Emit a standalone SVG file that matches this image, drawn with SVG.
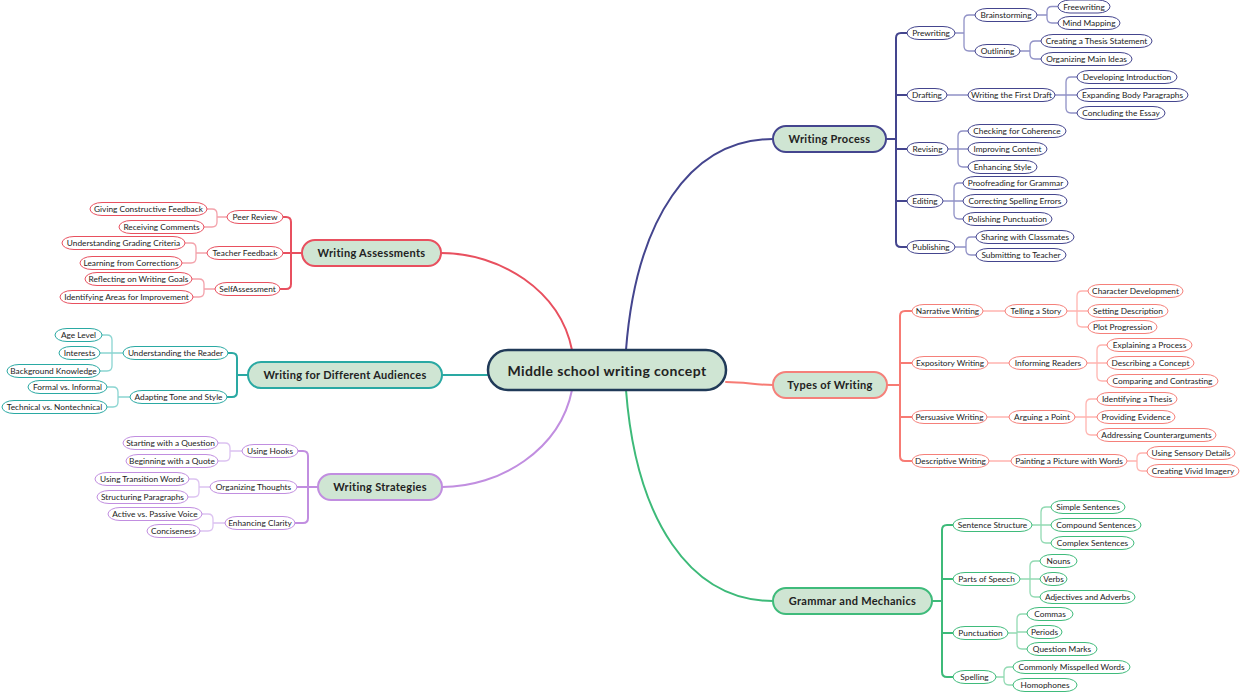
<svg xmlns="http://www.w3.org/2000/svg" width="1240" height="692" viewBox="0 0 1240 692">
<style>
text{font-family:Lato,"Open Sans","DejaVu Sans",sans-serif;text-anchor:middle;fill:#222}
.lf rect{fill:#fff;stroke-width:1;rx:12;ry:6.5}
.lf text{font-size:8.3px}
.mn rect{fill:#cfe5d3;stroke-width:2;rx:13;ry:13}
.mn text{font-size:11px;font-weight:bold;letter-spacing:0.3px}
.c{fill:none;stroke-linecap:round}
.t{stroke-width:2}
.s{stroke-width:1.3}
.wp rect{stroke:#44458e}.wp1{stroke:#44458e}.wp2{stroke:#9091c6}
.tw rect{stroke:#f5807a}.tw1{stroke:#f77b74}.tw2{stroke:#ffb4b0}
.gm rect{stroke:#3fbb7b}.gm1{stroke:#3dba79}.gm2{stroke:#92dab3}
.wa rect{stroke:#e8505f}.wa1{stroke:#e8505f}.wa2{stroke:#f3a2ab}
.au rect{stroke:#2aa9a3}.au1{stroke:#2aa9a3}.au2{stroke:#8ad5d1}
.ws rect{stroke:#c18ee0}.ws1{stroke:#c18ee0}.ws2{stroke:#dcc2f1}
</style>
<rect width="1240" height="692" fill="#fff"/>
<g id="connectors">
<path class="c t wp1" d="M626,350 C636,220 690,139 773,139"/>
<path class="c t tw1" d="M726,382 C745,382 755,385 773,385"/>
<path class="c t gm1" d="M626,390 C636,520 690,601 773,601"/>
<path class="c t wa1" d="M572,350 C560,290 500,253 441,253"/>
<path class="c t au1" d="M488,375 H442"/>
<path class="c t ws1" d="M572,390 C560,450 500,487 442,487"/>
<path class="c t wp1" d="M886,139 H896 M907,33 H901 Q896,33 896,38 V242 Q896,247 901,247 H907 M896,95 H907 M896,149 H907 M896,201 H907"/>
<path class="c s wp2" d="M955,33 H964 M975,15 H969 Q964,15 964,20 V46 Q964,51 969,51 H975 M1037,15 H1047 M1058,6.5 H1052 Q1047,6.5 1047,11.5 V18 Q1047,23 1052,23 H1058 M1020,51 H1030 M1041,41 H1035 Q1030,41 1030,46 V54 Q1030,59 1035,59 H1041 M947,95 H968 M1055,95 H1077 M1077,77 H1071 Q1066,77 1066,82 V108 Q1066,113 1071,113 H1077 M948,149 H968 M968,131 H963 Q958,131 958,136 V162 Q958,167 963,167 H968 M943,201 H963 M963,183 H959 Q954,183 954,188 V214 Q954,219 959,219 H963 M955,247 H966 M976,237 H971 Q966,237 966,242 V250 Q966,255 971,255 H976"/>
<path class="c t tw1" d="M887,385 H900 M912,311 H905 Q900,311 900,316 V456 Q900,461 905,461 H912 M900,363 H912 M900,417 H912"/>
<path class="c s tw2" d="M983,311 H1005 M1067,311 H1088 M1088,291 H1082 Q1077,291 1077,296 V322 Q1077,327 1082,327 H1088 M988,363 H1009 M1087,363 H1107 M1107,345 H1102 Q1097,345 1097,350 V376 Q1097,381 1102,381 H1107 M987,417 H1009 M1075,417 H1097 M1097,399 H1091 Q1086,399 1086,404 V430 Q1086,435 1091,435 H1097 M989,461 H1011 M1127,461 H1137 M1147,453 H1142 Q1137,453 1137,458 V466 Q1137,471 1142,471 H1147"/>
<path class="c t gm1" d="M932,601 H942 M953,525 H947 Q942,525 942,530 V672 Q942,677 947,677 H953 M942,579 H953 M942,633 H953"/>
<path class="c s gm2" d="M1032,525 H1051 M1051,507 H1046 Q1041,507 1041,512 V538 Q1041,543 1046,543 H1051 M1020,579 H1040 M1040,561 H1035 Q1030,561 1030,566 V592 Q1030,597 1035,597 H1040 M1008,633 H1017 M1027,614 H1022 Q1017,614 1017,619 V644 Q1017,649 1022,649 H1027 M1017,632 H1027 M996,677 H1004 M1013,667 H1009 Q1004,667 1004,672 V680 Q1004,685 1009,685 H1013"/>
<path class="c t wa1" d="M302,253 H291 M283,217 H286 Q291,217 291,222 V284 Q291,289 286,289 H280 M291,253 H283"/>
<path class="c s wa2" d="M227,217 H217 M207,209 H212 Q217,209 217,214 V222 Q217,227 212,227 H204 M207,253 H196 M185,243 H191 Q196,243 196,248 V258 Q196,263 191,263 H182 M215,289 H204 M192,279 H199 Q204,279 204,284 V292 Q204,297 199,297 H193"/>
<path class="c t au1" d="M248,375 H237 M228,353 H232 Q237,353 237,358 V392 Q237,397 232,397 H227"/>
<path class="c s au2" d="M123,353 H112 M102,335 H107 Q112,335 112,340 V366 Q112,371 107,371 H100 M112,353 H100 M130,397 H118 M107,387 H113 Q118,387 118,392 V402 Q118,407 113,407 H107"/>
<path class="c t ws1" d="M318,487 H308 M298,451 H303 Q308,451 308,456 V518 Q308,523 303,523 H295 M308,487 H297"/>
<path class="c s ws2" d="M242,451 H230 M218,443 H225 Q230,443 230,448 V456 Q230,461 225,461 H218 M210,487 H199 M189,479 H194 Q199,479 199,484 V492 Q199,497 194,497 H188 M225,523 H213 M202,514 H208 Q213,514 213,519 V526 Q213,531 208,531 H200"/>
</g>
<g id="center"><rect x="488" y="350" width="238" height="40" rx="20" fill="#cfe5d3" stroke="#203a58" stroke-width="2.5"/><text x="607" y="376" font-size="14" font-weight="bold" letter-spacing="0.4">Middle school writing concept</text></g>
<g id="writing-process" class="mn wp"><rect x="773" y="126" width="113" height="26"/><text x="829.5" y="143">Writing Process</text></g>
<g id="types-of-writing" class="mn tw"><rect x="773" y="372" width="114" height="26"/><text x="830" y="389">Types of Writing</text></g>
<g id="grammar" class="mn gm"><rect x="773" y="588" width="159" height="26"/><text x="852.5" y="605">Grammar and Mechanics</text></g>
<g id="writing-assessments" class="mn wa"><rect x="302" y="240" width="139" height="26"/><text x="371.5" y="257">Writing Assessments</text></g>
<g id="audiences" class="mn au"><rect x="248" y="362" width="194" height="26"/><text x="345" y="379">Writing for Different Audiences</text></g>
<g id="writing-strategies" class="mn ws"><rect x="318" y="474" width="124" height="26"/><text x="380" y="491">Writing Strategies</text></g>
<g class="lf wp">
<g id="prewriting"><rect x="907" y="26.5" width="48" height="13"/><text x="931" y="36">Prewriting</text></g>
<g id="brainstorming"><rect x="975" y="8.5" width="62" height="13"/><text x="1006" y="18">Brainstorming</text></g>
<g id="freewriting"><rect x="1058" y="0" width="52" height="13"/><text x="1084" y="9.5">Freewriting</text></g>
<g id="mind-mapping"><rect x="1058" y="16.5" width="62" height="13"/><text x="1089" y="26">Mind Mapping</text></g>
<g id="outlining"><rect x="975" y="44.5" width="45" height="13"/><text x="997.5" y="54">Outlining</text></g>
<g id="thesis-statement"><rect x="1041" y="34.5" width="111" height="13"/><text x="1096.5" y="44">Creating a Thesis Statement</text></g>
<g id="main-ideas"><rect x="1041" y="52.5" width="91" height="13"/><text x="1086.5" y="62">Organizing Main Ideas</text></g>
<g id="drafting"><rect x="907" y="88.5" width="40" height="13"/><text x="927" y="98">Drafting</text></g>
<g id="first-draft"><rect x="968" y="88.5" width="87" height="13"/><text x="1011.5" y="98">Writing the First Draft</text></g>
<g id="introduction"><rect x="1077" y="70.5" width="100" height="13"/><text x="1127" y="80">Developing Introduction</text></g>
<g id="body-paragraphs"><rect x="1077" y="88.5" width="111" height="13"/><text x="1132.5" y="98">Expanding Body Paragraphs</text></g>
<g id="concluding"><rect x="1077" y="106.5" width="88" height="13"/><text x="1121" y="116">Concluding the Essay</text></g>
<g id="revising"><rect x="907" y="142.5" width="41" height="13"/><text x="927.5" y="152">Revising</text></g>
<g id="coherence"><rect x="968" y="124.5" width="98" height="13"/><text x="1017" y="134">Checking for Coherence</text></g>
<g id="content"><rect x="968" y="142.5" width="79" height="13"/><text x="1007.5" y="152">Improving Content</text></g>
<g id="style"><rect x="968" y="160.5" width="69" height="13"/><text x="1002.5" y="170">Enhancing Style</text></g>
<g id="editing"><rect x="907" y="194.5" width="36" height="13"/><text x="925" y="204">Editing</text></g>
<g id="proofreading"><rect x="963" y="176.5" width="105" height="13"/><text x="1015.5" y="186">Proofreading for Grammar</text></g>
<g id="spelling-errors"><rect x="963" y="194.5" width="104" height="13"/><text x="1015" y="204">Correcting Spelling Errors</text></g>
<g id="polishing"><rect x="963" y="212.5" width="89" height="13"/><text x="1007.5" y="222">Polishing Punctuation</text></g>
<g id="publishing"><rect x="907" y="240.5" width="48" height="13"/><text x="931" y="250">Publishing</text></g>
<g id="sharing"><rect x="976" y="230.5" width="98" height="13"/><text x="1025" y="240">Sharing with Classmates</text></g>
<g id="submitting"><rect x="976" y="248.5" width="90" height="13"/><text x="1021" y="258">Submitting to Teacher</text></g>
</g>
<g class="lf tw">
<g id="narrative"><rect x="912" y="304.5" width="71" height="13"/><text x="947.5" y="314">Narrative Writing</text></g>
<g id="telling-story"><rect x="1005" y="304.5" width="62" height="13"/><text x="1036" y="314">Telling a Story</text></g>
<g id="character"><rect x="1088" y="284.5" width="95" height="13"/><text x="1135.5" y="294">Character Development</text></g>
<g id="setting"><rect x="1088" y="304.5" width="80" height="13"/><text x="1128" y="314">Setting Description</text></g>
<g id="plot"><rect x="1088" y="320.5" width="69" height="13"/><text x="1122.5" y="330">Plot Progression</text></g>
<g id="expository"><rect x="912" y="356.5" width="76" height="13"/><text x="950" y="366">Expository Writing</text></g>
<g id="informing"><rect x="1009" y="356.5" width="78" height="13"/><text x="1048" y="366">Informing Readers</text></g>
<g id="explaining"><rect x="1107" y="338.5" width="85" height="13"/><text x="1149.5" y="348">Explaining a Process</text></g>
<g id="describing"><rect x="1107" y="356.5" width="87" height="13"/><text x="1150.5" y="366">Describing a Concept</text></g>
<g id="comparing"><rect x="1107" y="374.5" width="111" height="13"/><text x="1162.5" y="384">Comparing and Contrasting</text></g>
<g id="persuasive"><rect x="912" y="410.5" width="75" height="13"/><text x="949.5" y="420">Persuasive Writing</text></g>
<g id="arguing"><rect x="1009" y="410.5" width="66" height="13"/><text x="1042" y="420">Arguing a Point</text></g>
<g id="thesis"><rect x="1097" y="392.5" width="80" height="13"/><text x="1137" y="402">Identifying a Thesis</text></g>
<g id="evidence"><rect x="1097" y="410.5" width="78" height="13"/><text x="1136" y="420">Providing Evidence</text></g>
<g id="counter"><rect x="1097" y="428.5" width="119" height="13"/><text x="1156.5" y="438">Addressing Counterarguments</text></g>
<g id="descriptive"><rect x="912" y="454.5" width="77" height="13"/><text x="950.5" y="464">Descriptive Writing</text></g>
<g id="painting"><rect x="1011" y="454.5" width="116" height="13"/><text x="1069" y="464">Painting a Picture with Words</text></g>
<g id="sensory"><rect x="1147" y="446.5" width="88" height="13"/><text x="1191" y="456">Using Sensory Details</text></g>
<g id="imagery"><rect x="1147" y="464.5" width="92" height="13"/><text x="1193" y="474">Creating Vivid Imagery</text></g>
</g>
<g class="lf gm">
<g id="sentence-structure"><rect x="953" y="518.5" width="79" height="13"/><text x="992.5" y="528">Sentence Structure</text></g>
<g id="simple"><rect x="1051" y="500.5" width="74" height="13"/><text x="1088" y="510">Simple Sentences</text></g>
<g id="compound"><rect x="1051" y="518.5" width="90" height="13"/><text x="1096" y="528">Compound Sentences</text></g>
<g id="complex"><rect x="1051" y="536.5" width="83" height="13"/><text x="1092.5" y="546">Complex Sentences</text></g>
<g id="parts-of-speech"><rect x="953" y="572.5" width="67" height="13"/><text x="986.5" y="582">Parts of Speech</text></g>
<g id="nouns"><rect x="1040" y="554.5" width="37" height="13"/><text x="1058.5" y="564">Nouns</text></g>
<g id="verbs"><rect x="1040" y="572.5" width="27" height="13"/><text x="1053.5" y="582">Verbs</text></g>
<g id="adjectives"><rect x="1040" y="590.5" width="95" height="13"/><text x="1087.5" y="600">Adjectives and Adverbs</text></g>
<g id="punctuation"><rect x="953" y="626.5" width="55" height="13"/><text x="980.5" y="636">Punctuation</text></g>
<g id="commas"><rect x="1027" y="607.5" width="46" height="13"/><text x="1050" y="617">Commas</text></g>
<g id="periods"><rect x="1027" y="625.5" width="35" height="13"/><text x="1044.5" y="635">Periods</text></g>
<g id="question-marks"><rect x="1027" y="642.5" width="70" height="13"/><text x="1062" y="652">Question Marks</text></g>
<g id="spelling"><rect x="953" y="670.5" width="43" height="13"/><text x="974.5" y="680">Spelling</text></g>
<g id="misspelled"><rect x="1013" y="660.5" width="117" height="13"/><text x="1071.5" y="670">Commonly Misspelled Words</text></g>
<g id="homophones"><rect x="1013" y="678.5" width="64" height="13"/><text x="1045" y="688">Homophones</text></g>
</g>
<g class="lf wa">
<g id="peer-review"><rect x="227" y="210.5" width="56" height="13"/><text x="255" y="220">Peer Review</text></g>
<g id="constructive"><rect x="90" y="202.5" width="117" height="13"/><text x="148.5" y="212">Giving Constructive Feedback</text></g>
<g id="receiving"><rect x="119" y="220.5" width="85" height="13"/><text x="161.5" y="230">Receiving Comments</text></g>
<g id="teacher-feedback"><rect x="207" y="246.5" width="76" height="13"/><text x="245" y="256">Teacher Feedback</text></g>
<g id="grading"><rect x="62" y="236.5" width="123" height="13"/><text x="123.5" y="246">Understanding Grading Criteria</text></g>
<g id="corrections"><rect x="80" y="256.5" width="102" height="13"/><text x="131" y="266">Learning from Corrections</text></g>
<g id="self-assessment"><rect x="215" y="282.5" width="65" height="13"/><text x="247.5" y="292">SelfAssessment</text></g>
<g id="goals"><rect x="85" y="272.5" width="107" height="13"/><text x="138.5" y="282">Reflecting on Writing Goals</text></g>
<g id="improvement"><rect x="60" y="290.5" width="133" height="13"/><text x="126.5" y="300">Identifying Areas for Improvement</text></g>
</g>
<g class="lf au">
<g id="understanding-reader"><rect x="123" y="346.5" width="105" height="13"/><text x="175.5" y="356">Understanding the Reader</text></g>
<g id="age-level"><rect x="55" y="328.5" width="47" height="13"/><text x="78.5" y="338">Age Level</text></g>
<g id="interests"><rect x="59" y="346.5" width="41" height="13"/><text x="79.5" y="356">Interests</text></g>
<g id="background"><rect x="7" y="364.5" width="93" height="13"/><text x="53.5" y="374">Background Knowledge</text></g>
<g id="tone-style"><rect x="130" y="390.5" width="97" height="13"/><text x="178.5" y="400">Adapting Tone and Style</text></g>
<g id="formal"><rect x="28" y="380.5" width="79" height="13"/><text x="67.5" y="390">Formal vs. Informal</text></g>
<g id="technical"><rect x="2" y="400.5" width="105" height="13"/><text x="54.5" y="410">Technical vs. Nontechnical</text></g>
</g>
<g class="lf ws">
<g id="hooks"><rect x="242" y="444.5" width="56" height="13"/><text x="270" y="454">Using Hooks</text></g>
<g id="question"><rect x="123" y="436.5" width="95" height="13"/><text x="170.5" y="446">Starting with a Question</text></g>
<g id="quote"><rect x="126" y="454.5" width="92" height="13"/><text x="172" y="464">Beginning with a Quote</text></g>
<g id="organizing"><rect x="210" y="480.5" width="87" height="13"/><text x="253.5" y="490">Organizing Thoughts</text></g>
<g id="transition"><rect x="95" y="472.5" width="94" height="13"/><text x="142" y="482">Using Transition Words</text></g>
<g id="structuring"><rect x="97" y="490.5" width="91" height="13"/><text x="142.5" y="500">Structuring Paragraphs</text></g>
<g id="clarity"><rect x="225" y="516.5" width="70" height="13"/><text x="260" y="526">Enhancing Clarity</text></g>
<g id="voice"><rect x="108" y="507.5" width="94" height="13"/><text x="155" y="517">Active vs. Passive Voice</text></g>
<g id="conciseness"><rect x="147" y="524.5" width="53" height="13"/><text x="173.5" y="534">Conciseness</text></g>
</g>
</svg>
